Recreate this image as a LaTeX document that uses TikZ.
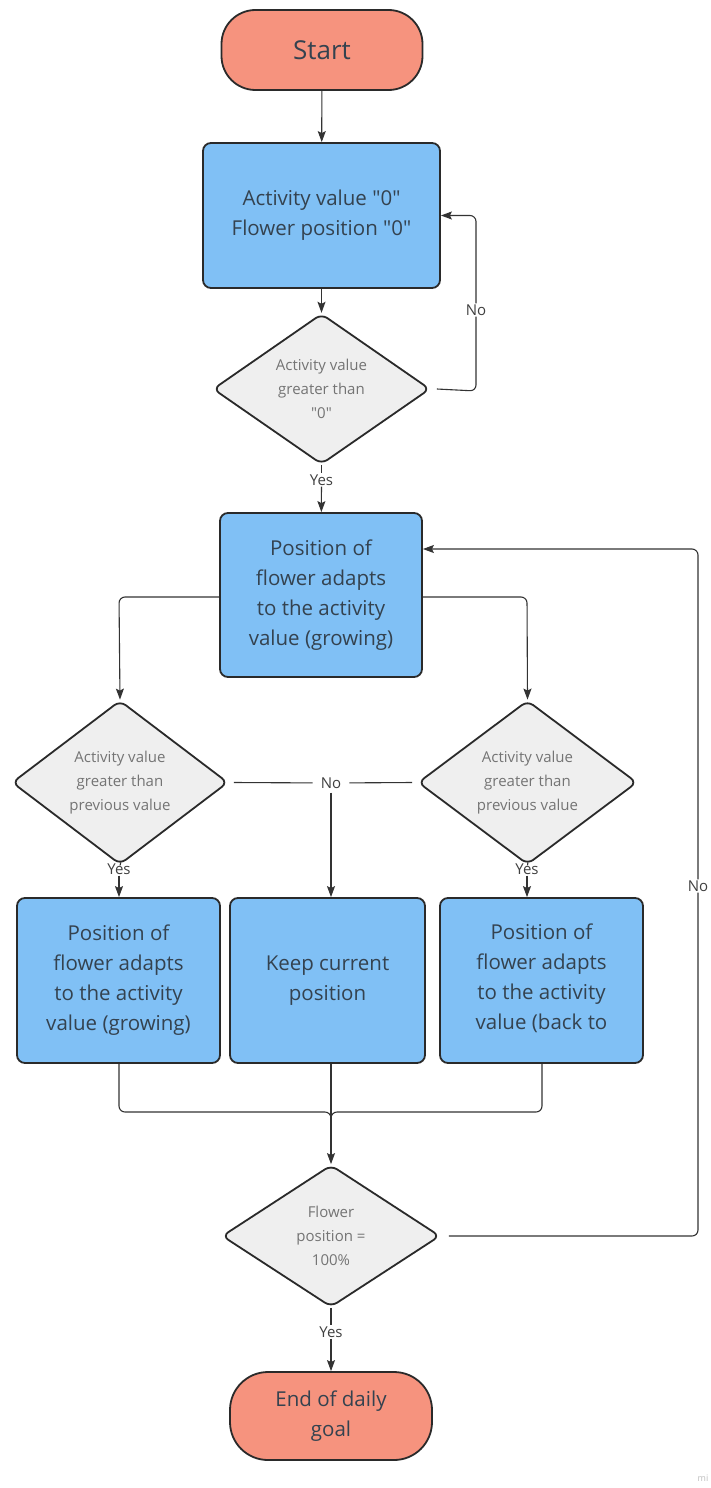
\documentclass[tikz,border=0pt]{standalone}
\usepackage{fontspec}
\setmainfont{Open Sans}[Ligatures=TeXOff]
\usetikzlibrary{shapes.geometric,arrows.meta}
\definecolor{boxblue}{HTML}{80C0F5}
\definecolor{salmon}{HTML}{F6937E}
\definecolor{dgray}{HTML}{EFEFEF}
\definecolor{edge}{HTML}{2A2A2A}
\definecolor{btext}{HTML}{34424F}
\definecolor{dtext}{HTML}{747474}
\definecolor{ltext}{HTML}{404040}
\definecolor{conn}{HTML}{333333}
\tikzset{
  term/.style={draw=edge,line width=1.8pt,fill=salmon,rounded corners=34pt,minimum width=201pt,minimum height=80pt,align=center,text=btext},
  bluebox/.style={draw=edge,line width=1.8pt,fill=boxblue,rounded corners=8pt,align=center,text=btext,font=\fontsize{20.5}{30}\selectfont,inner sep=0pt},
  dia/.style={draw=edge,line width=1.8pt,fill=dgray,diamond,rounded corners=7pt,inner sep=0pt,align=center,text=dtext,font=\fontsize{15}{24}\selectfont},
  lbl/.style={inner xsep=2pt,inner ysep=1pt,text=ltext,font=\fontsize{15}{18}\selectfont},
  conline/.style={draw=conn,line width=1.1pt},
  arr/.style={conline,-{Stealth[length=11pt,width=8pt,inset=2pt]}},
}
\begin{document}
\begin{tikzpicture}[x=1pt,y=-1pt]
\path[use as bounding box,fill=white] (0,0) rectangle (711,1488);

% nodes
\node[term,font=\fontsize{26}{30}\selectfont] (start) at (322,50) {Start};
\node[bluebox,minimum width=237pt,minimum height=145pt] (b1) at (321.5,215.5) {Activity value "0"\\Flower position "0"};
\node[dia,minimum width=217pt,minimum height=138pt] (d1) at (321.5,389) {Activity value\\greater than\\"0"};
\node[bluebox,minimum width=202pt,minimum height=164pt] (b2) at (321,595) {Position of\\flower adapts\\to the activity\\value (growing)};
\node[dia,minimum width=216pt,minimum height=143pt] (dl) at (120,782.5) {Activity value\\greater than\\previous value};
\node[dia,minimum width=219pt,minimum height=143pt] (dr) at (527.5,782.5) {Activity value\\greater than\\previous value};
\node[bluebox,minimum width=203pt,minimum height=165pt] (bl) at (118.5,980.5) {Position of\\flower adapts\\to the activity\\value (growing)};
\node[bluebox,minimum width=195pt,minimum height=165pt] (bm) at (327.5,980.5) {Keep current\\position};
\node[bluebox,minimum width=203pt,minimum height=165pt] (br) at (541.5,980.5) {};
\node[align=center,text=btext,font=\fontsize{20.5}{30}\selectfont,anchor=north] (brt) at (541.5,920) {Position of\\flower adapts\\to the activity\\value (back to};
\node[dia,minimum width=218pt,minimum height=142pt] (d3) at (331,1236) {Flower\\position =\\100\%};
\node[term,font=\fontsize{20.5}{30}\selectfont,minimum width=202pt,minimum height=88pt,rounded corners=38pt] (end) at (331,1416) {End of daily\\goal};
\node[text=black!25,font=\fontsize{9}{10}\selectfont] (mi) at (703,1478) {mi};

% labels
\node[lbl] (no1) at (476,310) {No};
\node[lbl] (yes1) at (321.5,480) {Yes};
\node[lbl,inner xsep=8pt] (no2) at (331,783) {No};
\node[lbl] (yesl) at (119,869) {Yes};
\node[lbl] (yesr) at (527,869) {Yes};
\node[lbl] (no3) at (698,886) {No};
\node[lbl] (yes3) at (331,1332) {Yes};

\coordinate (c1) at (476,391);
\coordinate (c2) at (476,215.5);
\coordinate (c3) at (119,597);
\coordinate (c4) at (527,597);
\coordinate (c5) at (119,1112);
\coordinate (c6) at (542,1112);
\coordinate (c7) at (331,1112);
\coordinate (c8) at (698,1236);
\coordinate (c9) at (698,549);

% connectors
\draw[arr] (start) -- (b1);
\draw[arr] (b1) -- (d1);
\draw[conline,rounded corners=6pt] ([xshift=6pt]d1.east) -- (c1) -- (no1);
\draw[arr,rounded corners=6pt] (no1) -- (c2) -- (b1.east);
\draw[conline] (d1.south) -- (yes1);
\draw[arr] (yes1) -- (b2);
\draw[arr,rounded corners=6pt] (b2.west |- c3) -- (c3) -- (dl.north);
\draw[arr,rounded corners=6pt] (b2.east |- c4) -- (c4) -- (dr.north);
\draw[conline] ([xshift=5pt]dl.east) -- (no2);
\draw[conline] ([xshift=-5pt]dr.west) -- (no2);
\draw[arr] ([yshift=-3pt]no2.south) -- (bm.north -| no2);
\draw[conline] (dl.south) -- (yesl);
\draw[arr] (yesl) -- (bl.north -| yesl);
\draw[conline] (dr.south) -- (yesr);
\draw[arr] (yesr) -- (br.north -| yesr);
\draw[conline,rounded corners=6pt] (bl.south -| c5) -- (c5) -- (c7) -- ++(0,10);
\draw[conline,rounded corners=6pt] (br.south -| c6) -- (c6) -- (c7) -- ++(0,10);
\draw[arr] (bm.south -| c7) -- (d3.north);
\draw[conline,rounded corners=6pt] ([xshift=8pt]d3.east) -- (c8) -- (no3);
\draw[arr,rounded corners=6pt] (no3) -- (c9) -- (b2.east |- c9);
\draw[conline] (d3.south) -- (yes3);
\draw[arr] (yes3) -- (end);
\end{tikzpicture}
\end{document}
